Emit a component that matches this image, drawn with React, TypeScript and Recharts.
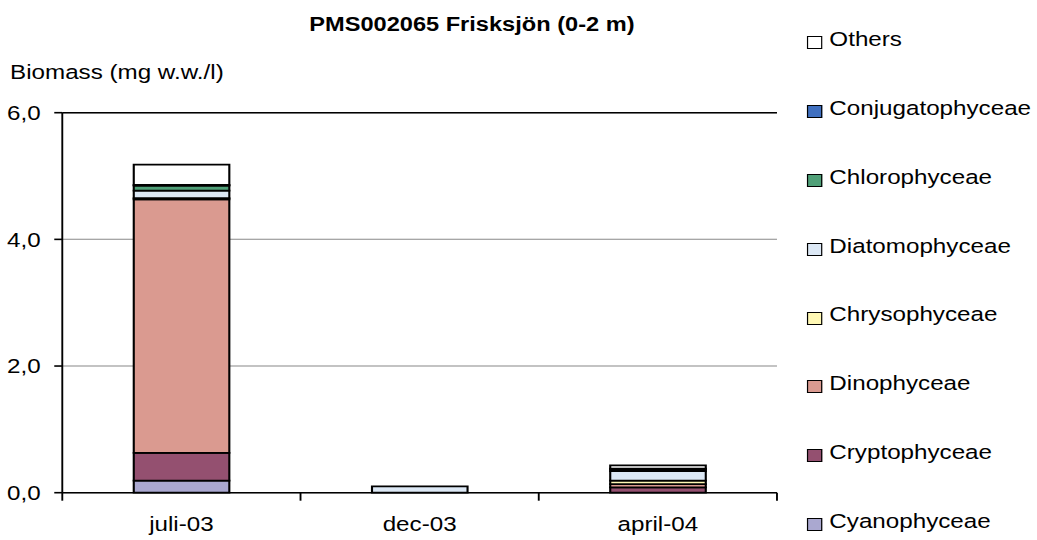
import { Bar, BarChart, CartesianGrid, ReferenceLine, XAxis, YAxis } from 'recharts';

// sampling dates
const months = ['juli-03', 'dec-03', 'april-04'];

// biomass per class, mg w.w./l
const cyanophyceae = [0.19, 0, 0];
const cryptophyceae = [0.44, 0, 0.085];
const dinophyceae = [4.0, 0, 0.05];
const chrysophyceae = [0.02, 0, 0.055];
const diatomophyceae = [0.12, 0.1, 0.15];
const chlorophyceae = [0.08, 0, 0.03];
const conjugatophyceae = [0.01, 0, 0.01];
const others = [0.32, 0, 0.05];

const yTicks = [0, 2, 4, 6];

// stacking order, bottom to top
const SERIES = [
  { key: 'cyano', name: 'Cyanophyceae', values: cyanophyceae, color: '#aaa8d0' },
  { key: 'crypto', name: 'Cryptophyceae', values: cryptophyceae, color: '#945070' },
  { key: 'dino', name: 'Dinophyceae', values: dinophyceae, color: '#da9a90' },
  { key: 'chryso', name: 'Chrysophyceae', values: chrysophyceae, color: '#fff8b4' },
  { key: 'diatom', name: 'Diatomophyceae', values: diatomophyceae, color: '#dce8f5' },
  { key: 'chloro', name: 'Chlorophyceae', values: chlorophyceae, color: '#50a078' },
  { key: 'conj', name: 'Conjugatophyceae', values: conjugatophyceae, color: '#4070c0' },
  { key: 'others', name: 'Others', values: others, color: '#ffffff' },
];

const FONT = "Arial, 'Liberation Sans', sans-serif";
const FS = 20.5;
const W = 879;
const H = 540;
const STRETCH = 1037 / W;
const PLOT_LEFT = 52.8;
const PLOT_RIGHT = 658.6;
const LEGEND_LEFT = 683.8;

const rows = months.map((month, i) => {
  const row: Record<string, string | number> = { month };
  SERIES.forEach((s) => {
    row[s.key] = s.values[i];
  });
  return row;
});

const fmt = (v: number) => v.toFixed(1).replace('.', ',');

// category label plus tick marks on the category boundaries
function MonthTick(props: any) {
  const { x, y, payload, index, visibleTicksCount } = props;
  const half = payload?.offset || (PLOT_RIGHT - PLOT_LEFT) / (2 * months.length);
  return (
    <g>
      <line x1={x - half} x2={x - half} y1={y} y2={y + 8} stroke="#000" strokeWidth={1.6} />
      {index === visibleTicksCount - 1 && (
        <line x1={x + half} x2={x + half} y1={y} y2={y + 8} stroke="#000" strokeWidth={1.6} />
      )}
      <text x={x} y={y + 38} textAnchor="middle" fontSize={FS} fontFamily={FONT} fill="#000">
        {payload.value}
      </text>
    </g>
  );
}

export default function App() {
  return (
    <div style={{ position: 'absolute', left: 0, top: 0, width: 1037, height: H, overflow: 'hidden', background: '#fff' }}>
      <div
        style={{
          position: 'relative',
          width: W,
          height: H,
          transform: `scaleX(${STRETCH})`,
          transformOrigin: '0 0',
          fontFamily: FONT,
          color: '#000',
        }}
      >
        <BarChart
          width={W}
          height={H}
          data={rows}
          margin={{ top: 112.7, right: W - PLOT_RIGHT, bottom: 17.3, left: 0 }}
          barCategoryGap="30%"
        >
          <CartesianGrid vertical={false} stroke="#888" />
          <XAxis
            dataKey="month"
            height={30}
            interval={0}
            tickLine={false}
            tickSize={0}
            tickMargin={0}
            axisLine={{ stroke: '#000', strokeWidth: 1.6 }}
            tick={<MonthTick />}
          />
          <YAxis
            domain={[0, 6]}
            ticks={yTicks}
            width={PLOT_LEFT}
            tickSize={6.8}
            tickMargin={11.5}
            tickFormatter={fmt}
            axisLine={{ stroke: '#000', strokeWidth: 1.6 }}
            tickLine={{ stroke: '#000', strokeWidth: 1.6 }}
            tick={{ fill: '#000', fontSize: FS, fontFamily: FONT }}
          />
          <YAxis
            yAxisId="frame"
            orientation="right"
            width={0}
            domain={[0, 6]}
            tick={false}
            tickLine={false}
            axisLine={{ stroke: '#000', strokeWidth: 1.6 }}
          />
          <ReferenceLine y={6} stroke="#000" strokeWidth={1.6} />
          {SERIES.map((s) => (
            <Bar
              key={s.key}
              dataKey={s.key}
              name={s.name}
              stackId="a"
              fill={s.color}
              stroke="#000"
              strokeWidth={1.8}
              isAnimationActive={false}
            />
          ))}
        </BarChart>

        <div
          style={{
            position: 'absolute',
            left: 200,
            width: 400,
            top: 14,
            textAlign: 'center',
            fontSize: 20,
            lineHeight: '20px',
            fontWeight: 'bold',
            whiteSpace: 'nowrap',
          }}
        >
          PMS002065 Frisksjön (0-2 m)
        </div>
        <div
          style={{
            position: 'absolute',
            left: 8.5,
            top: 62,
            fontSize: FS,
            lineHeight: `${FS}px`,
            whiteSpace: 'nowrap',
          }}
        >
          Biomass (mg w.w./l)
        </div>

        {[...SERIES].reverse().map((s, i) => (
          <div
            key={s.key}
            style={{
              position: 'absolute',
              left: LEGEND_LEFT,
              top: 29.2 + i * 68.8,
              height: 21,
              whiteSpace: 'nowrap',
            }}
          >
            <span
              style={{
                position: 'absolute',
                left: 0,
                top: 7.3,
                width: 13.6,
                height: 13,
                boxSizing: 'border-box',
                border: '1.5px solid #000',
                background: s.color,
              }}
            />
            <span
              style={{
                position: 'absolute',
                left: 19.2,
                top: 0,
                fontSize: FS,
                lineHeight: `${FS}px`,
              }}
            >
              {s.name}
            </span>
          </div>
        ))}
      </div>
    </div>
  );
}
